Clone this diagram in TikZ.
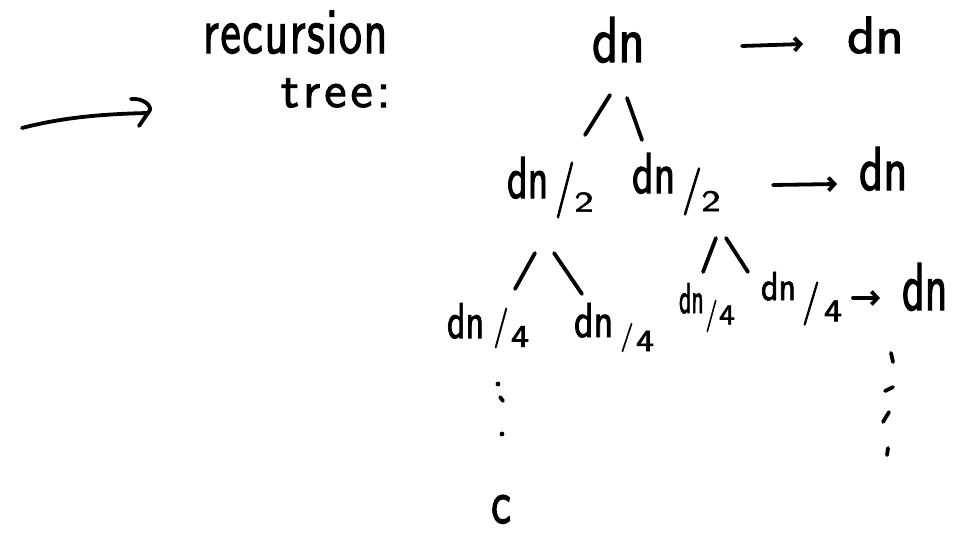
\documentclass[tikz,border=0pt]{standalone}
\usepackage{fontspec}
\usepackage{graphicx}
\usetikzlibrary{arrows.meta}
\newfontfamily\hwfont[FakeBold=2]{lmsans10-regular.otf}
\newfontfamily\hwfontA[FakeBold=2,LetterSpace=3.5]{lmsans10-regular.otf}
\newfontfamily\hwfontB[FakeBold=2,LetterSpace=8]{lmsans10-regular.otf}
\newcommand{\hw}[3]{\fontsize{#1}{#1}\selectfont\scalebox{1}[#2]{#3}}
\begin{document}
\begin{tikzpicture}[x=1pt,y=-1pt,
  hw/.style={anchor=base west,inner sep=0pt,outer sep=0pt,font=\hwfont},
  hwp/.style={anchor=center,inner sep=0pt,outer sep=0pt,font=\hwfont},
  ink/.style={line width=3.8pt,line cap=round,line join=round},
  tip/.style={ink,-{Straight Barb[length=6pt,width=13pt]}}]
\fill[white] (0,0) rectangle (963,536);
\useasboundingbox (0,0) rectangle (963,536);

% title
\node[hw,font=\hwfontA] (title1) at (203,53) {\hw{46}{1.4}{recursion}};
\node[hw,font=\hwfontB] (title2) at (281,107) {\hw{50}{1}{tree:}};

% left arrow
\coordinate (la0) at (22,128);
\coordinate (la1) at (148,113);
\draw[ink] (la0) .. controls (60,118) and (100,114) .. (la1);
\draw[ink] ([shift={(-17,-14)}]la1) .. controls ([shift={(-5,-15)}]la1) and ([shift={(3,-8)}]la1) .. ([shift={(2,-3)}]la1) -- ([shift={(-9,13)}]la1);

% level 0
\node[hw] (root) at (592,62) {\hw{51}{1.27}{dn}};
\node[hw] (R0) at (847,53) {\hw{55}{0.95}{dn}};

% level 1
\node[hw] (L1a) at (507,198) {\hw{40}{1.48}{dn}};
\node[hwp] (L1a-s) at (565,190) {\hw{40}{1.4}{/}};
\node[hwp] (L1a-d) at (584,202) {\hw{38}{0.75}{2}};
\node[hw] (L1b) at (632,193) {\hw{42}{1.37}{dn}};
\node[hwp] (L1b-s) at (692,191.5) {\hw{40}{1.18}{/}};
\node[hwp] (L1b-d) at (711,201) {\hw{38}{0.78}{2}};
\node[hw] (R1) at (859,190) {\hw{47}{1.32}{dn}};

% level 2
\node[hw] (L2a) at (447,338) {\hw{36}{1.4}{dn}};
\node[hwp] (L2a-s) at (501,328) {\hw{30}{1.33}{/}};
\node[hwp] (L2a-d) at (520,336.5) {\hw{36}{0.88}{4}};
\node[hw] (L2b) at (574,337) {\hw{38}{1.29}{dn}};
\node[hwp] (L2b-s) at (627,337.5) {\hw{26}{1.1}{/}};
\node[hwp] (L2b-d) at (645,341) {\hw{36}{0.85}{4}};
\node[hw] (L2c) at (679,313) {\hw{24}{1.8}{dn}};
\node[hwp] (L2c-s) at (711.5,316) {\hw{24}{1.33}{/}};
\node[hwp] (L2c-d) at (727,315) {\hw{32}{0.9}{4}};
\node[hw] (L2d) at (761,300) {\hw{34}{1.19}{dn}};
\node[hwp] (L2d-s) at (811,303.5) {\hw{36}{1.2}{/}};
\node[hwp] (L2d-d) at (833,311) {\hw{36}{0.88}{4}};
\node[hw] (R2) at (902,310) {\hw{44}{1.54}{dn}};

% leaf
\node[hw] (leaf) at (491,523) {\hw{45}{1.35}{c}};

% branches
\draw[ink] ([shift={(18,33)}]root.base west) -- ([shift={(78,-63)}]L1a.base west);
\draw[ink] ([shift={(35,36)}]root.base west) -- ([shift={(10,-53)}]L1b.base west);
\draw[ink] ([shift={(28,55)}]L1a.base west) -- ([shift={(68,-49)}]L2a.base west);
\draw[ink] ([shift={(47,55)}]L1a.base west) -- ([shift={(8,-43)}]L2b.base west);
\draw[ink] ([shift={(84,45)}]L1b.base west) -- ([shift={(24,-41)}]L2c.base west);
\draw[ink] ([shift={(94,45)}]L1b.base west) -- ([shift={(-13,-28)}]L2d.base west);

% level sums
\draw[tip] ([shift={(150,-16)}]root.base west) -- ([shift={(-44,-9)}]R0.base west);
\draw[tip] ([shift={(62,-16)}]L1b-d.center) -- ([shift={(-22,-6)}]R1.base west);
\draw[tip] ([shift={(20,-13)}]L2d-d.center) -- ([shift={(-22,-12)}]R2.base west);

% dots
\fill (498,384) circle (2.4pt);
\draw[ink] (500,397) -- (503,401);
\fill (502,434) circle (2.4pt);
\draw[ink] (891,353) -- (893,362);
\draw[ink] (885,391) -- (893,387);
\draw[ink] (883,422) -- (889,412);
\draw[ink] (887,455) -- (888,448);
\end{tikzpicture}
\end{document}
